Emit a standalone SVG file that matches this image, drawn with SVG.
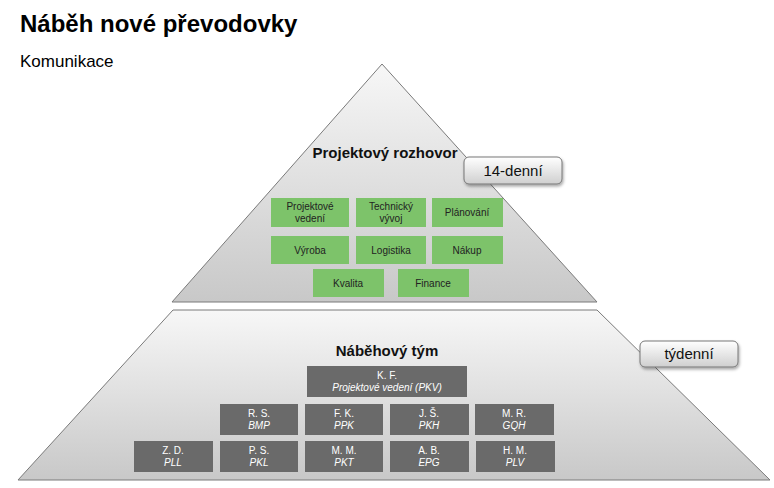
<svg xmlns="http://www.w3.org/2000/svg" width="774" height="488" viewBox="0 0 774 488">
<defs>
<linearGradient id="pg" x1="0" y1="0" x2="0" y2="1"><stop offset="0" stop-color="#f7f7f7"/><stop offset="1" stop-color="#c8c8c8"/></linearGradient>
<linearGradient id="bg" x1="0" y1="0" x2="0" y2="1"><stop offset="0" stop-color="#ffffff"/><stop offset="1" stop-color="#cfcfcf"/></linearGradient>
<filter id="sh" x="-10%" y="-10%" width="130%" height="140%"><feDropShadow dx="1" dy="2" stdDeviation="1.5" flood-opacity="0.35"/></filter>
</defs>
<style>
text{font-family:"Liberation Sans","DejaVu Sans",sans-serif;text-anchor:middle;}
.lvl{fill:url(#pg);stroke:#7a7a7a;stroke-width:1;}
.g rect{fill:#7dc36a;}
.g text{font-size:10px;fill:#222;}
.d rect{fill:#6a6a6a;}
.d text{font-size:10px;fill:#fff;}
.d text.i{font-style:italic;}
.tag rect{fill:url(#bg);stroke:#777;filter:url(#sh);}
.tag text{font-size:15px;fill:#111;}
.h{font-size:15px;font-weight:bold;fill:#111;}
</style>
<rect width="774" height="488" fill="#fff"/>
<text x="20" y="32" style="text-anchor:start;font-size:24px;font-weight:bold">Náběh nové převodovky</text>
<text x="20" y="67" style="text-anchor:start;font-size:17px">Komunikace</text>
<g id="top-level"><polygon class="lvl" points="382,64 597,302 172,302"/><text class="h" x="385" y="158">Projektový rozhovor</text></g>
<g id="bottom-level"><polygon class="lvl" points="173,310 597,310 770,480 18,480"/><text class="h" x="387" y="356">Náběhový tým</text></g>
<g id="tag-14"  class="tag"><rect x="464" y="157" width="98" height="27" rx="5"/><text x="513" y="176">14-denní</text></g>
<g id="tag-w" class="tag"><rect x="640" y="341" width="98" height="26" rx="5"/><text x="689" y="359">týdenní</text></g>
<g id="g1" class="g"><rect x="271" y="198" width="78" height="29"/><text x="310" y="210">Projektové</text><text x="310" y="222">vedení</text></g>
<g id="g2" class="g"><rect x="356" y="198" width="70" height="29"/><text x="391" y="210">Technický</text><text x="391" y="222">vývoj</text></g>
<g id="g3" class="g"><rect x="432" y="198" width="71" height="29"/><text x="467" y="216">Plánování</text></g>
<g id="g4" class="g"><rect x="271" y="236" width="78" height="28"/><text x="310" y="254">Výroba</text></g>
<g id="g5" class="g"><rect x="356" y="236" width="70" height="28"/><text x="391" y="254">Logistika</text></g>
<g id="g6" class="g"><rect x="432" y="236" width="71" height="28"/><text x="467" y="254">Nákup</text></g>
<g id="g7" class="g"><rect x="313" y="269" width="71" height="28"/><text x="348" y="287">Kvalita</text></g>
<g id="g8" class="g"><rect x="398" y="269" width="71" height="28"/><text x="433" y="287">Finance</text></g>
<g id="d0" class="d"><rect x="307" y="366" width="160" height="31"/><text x="387" y="379">K. F.</text><text class="i" x="387" y="391">Projektové vedení (PKV)</text></g>
<g id="d1" class="d"><rect x="220" y="404" width="78" height="31"/><text x="259" y="417">R. S.</text><text class="i" x="259" y="429">BMP</text></g>
<g id="d2" class="d"><rect x="305" y="404" width="78" height="31"/><text x="344" y="417">F. K.</text><text class="i" x="344" y="429">PPK</text></g>
<g id="d3" class="d"><rect x="390" y="404" width="79" height="31"/><text x="429" y="417">J. Š.</text><text class="i" x="429" y="429">PKH</text></g>
<g id="d4" class="d"><rect x="475" y="404" width="79" height="31"/><text x="514" y="417">M. R.</text><text class="i" x="514" y="429">GQH</text></g>
<g id="d5" class="d"><rect x="134" y="441" width="79" height="31"/><text x="173" y="454">Z. D.</text><text class="i" x="173" y="466">PLL</text></g>
<g id="d6" class="d"><rect x="220" y="441" width="78" height="31"/><text x="259" y="454">P. S.</text><text class="i" x="259" y="466">PKL</text></g>
<g id="d7" class="d"><rect x="305" y="441" width="78" height="31"/><text x="344" y="454">M. M.</text><text class="i" x="344" y="466">PKT</text></g>
<g id="d8" class="d"><rect x="390" y="441" width="79" height="31"/><text x="429" y="454">A. B.</text><text class="i" x="429" y="466">EPG</text></g>
<g id="d9" class="d"><rect x="476" y="441" width="79" height="31"/><text x="515" y="454">H. M.</text><text class="i" x="515" y="466">PLV</text></g>
<g id="connectors"/>
</svg>
